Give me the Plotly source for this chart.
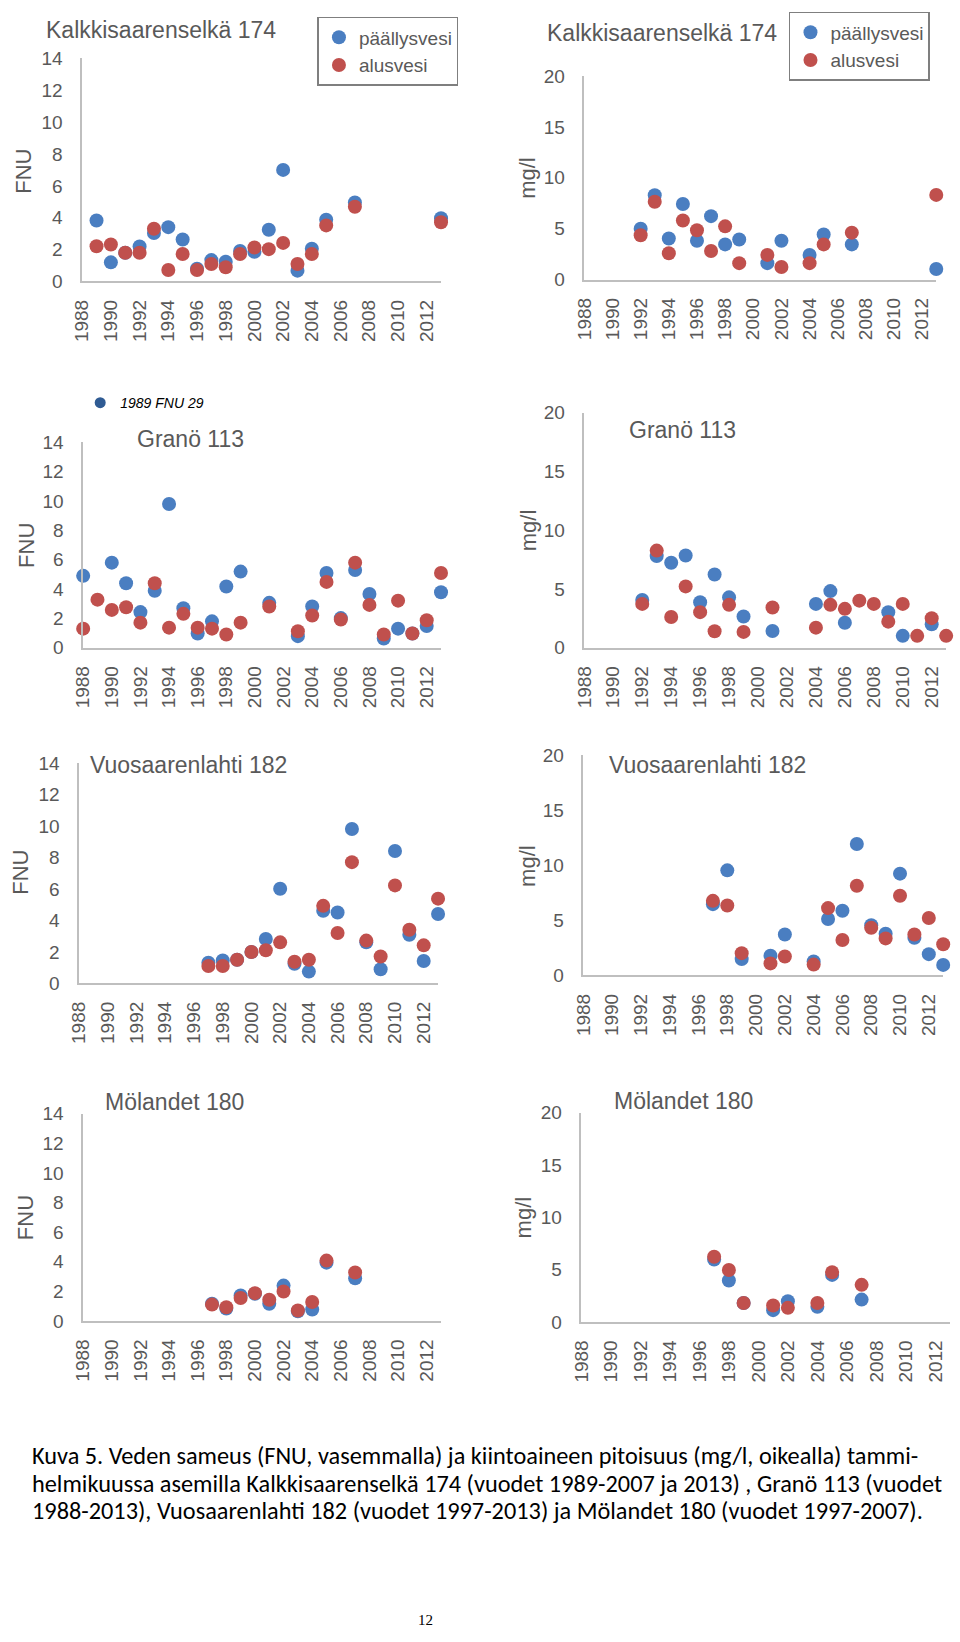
import plotly.graph_objects as go

W, H = 960, 1642
BLUE = "#4A7EC1"
RED = "#C0504D"
DARKBLUE = "#2F5B93"
GRAY = "#595959"
AXIS = "#BFBFBF"
FONT = "Liberation Sans, Arial, sans-serif"

# ---------------- data ----------------
# Kalkkisaarenselkä 174, FNU
k_fnu_years = [1989, 1990, 1991, 1992, 1993, 1994, 1995, 1996, 1997, 1998, 1999, 2000, 2001, 2002, 2003, 2004, 2005, 2007, 2013]
k_fnu_blue = [3.83, 1.2, 1.8, 2.2, 3.04, 3.41, 2.63, 0.8, 1.34, 1.24, 1.92, 1.86, 3.25, 7.0, 0.68, 2.05, 3.87, 4.96, 3.97]
k_fnu_red = [2.21, 2.32, 1.8, 1.8, 3.31, 0.72, 1.72, 0.72, 1.1, 0.89, 1.72, 2.13, 2.03, 2.42, 1.1, 1.72, 3.52, 4.69, 3.72]

# Kalkkisaarenselkä 174, mg/l
k_mg_years = [1992, 1993, 1994, 1995, 1996, 1997, 1998, 1999, 2001, 2002, 2004, 2005, 2007, 2013]
k_mg_blue = [5.0, 8.29, 4.03, 7.42, 3.81, 6.23, 3.45, 3.94, 1.61, 3.81, 2.42, 4.42, 3.45, 1.03]
k_mg_red = [4.35, 7.65, 2.58, 5.81, 4.84, 2.81, 5.23, 1.61, 2.42, 1.23, 1.61, 3.45, 4.61, 8.32]

# Granö 113, FNU
g_fnu_years_blue = [1988, 1990, 1991, 1992, 1993, 1994, 1995, 1996, 1997, 1998, 1999, 2001, 2003, 2004, 2005, 2006, 2007, 2008, 2009, 2010, 2011, 2012, 2013]
g_fnu_blue = [4.9, 5.8, 4.4, 2.43, 3.89, 9.8, 2.7, 0.97, 1.8, 4.18, 5.19, 3.06, 0.79, 2.81, 5.1, 2.02, 5.3, 3.66, 0.63, 1.3, 0.97, 1.48, 3.78]
g_fnu_outlier_year = [1989]
g_fnu_outlier_value = [29]
g_fnu_years_red = [1988, 1989, 1990, 1991, 1992, 1993, 1994, 1995, 1996, 1997, 1998, 1999, 2001, 2003, 2004, 2005, 2006, 2007, 2008, 2009, 2010, 2011, 2012, 2013]
g_fnu_red = [1.3, 3.28, 2.58, 2.76, 1.71, 4.4, 1.37, 2.31, 1.37, 1.3, 0.9, 1.71, 2.81, 1.12, 2.2, 4.49, 1.93, 5.8, 2.92, 0.9, 3.21, 0.97, 1.87, 5.1]

# Granö 113, mg/l
g_mg_years_blue = [1992, 1993, 1994, 1995, 1996, 1997, 1998, 1999, 2001, 2004, 2005, 2006, 2009, 2010, 2012]
g_mg_blue = [4.07, 7.8, 7.24, 7.85, 3.87, 6.23, 4.29, 2.66, 1.43, 3.73, 4.82, 2.13, 3.03, 1.01, 1.99]
g_mg_years_red = [1992, 1993, 1994, 1995, 1996, 1997, 1998, 1999, 2001, 2004, 2005, 2006, 2007, 2008, 2009, 2010, 2011, 2012, 2013]
g_mg_red = [3.73, 8.27, 2.61, 5.22, 3.03, 1.4, 3.65, 1.35, 3.42, 1.71, 3.65, 3.31, 4.01, 3.73, 2.22, 3.73, 1.01, 2.52, 1.01]

# Vuosaarenlahti 182, FNU
v_fnu_years = [1997, 1998, 1999, 2000, 2001, 2002, 2003, 2004, 2005, 2006, 2007, 2008, 2009, 2010, 2011, 2012, 2013]
v_fnu_blue = [1.32, 1.46, 1.5, 2.0, 2.82, 6.02, 1.25, 0.75, 4.62, 4.51, 9.82, 2.61, 0.9, 8.42, 3.09, 1.42, 4.41]
v_fnu_red = [1.11, 1.11, 1.5, 2.0, 2.11, 2.61, 1.38, 1.5, 4.93, 3.2, 7.71, 2.72, 1.71, 6.23, 3.41, 2.42, 5.39]

# Vuosaarenlahti 182, mg/l
v_mg_years = [1997, 1998, 1999, 2001, 2002, 2004, 2005, 2006, 2007, 2008, 2009, 2010, 2011, 2012, 2013]
v_mg_blue = [6.48, 9.55, 1.49, 1.79, 3.73, 1.28, 5.13, 5.88, 11.94, 4.57, 3.79, 9.25, 3.43, 1.94, 0.96]
v_mg_red = [6.78, 6.36, 2.03, 1.1, 1.73, 0.99, 6.12, 3.22, 8.15, 4.33, 3.37, 7.25, 3.73, 5.22, 2.84]

# Mölandet 180, FNU
m_fnu_years = [1997, 1998, 1999, 2000, 2001, 2002, 2003, 2004, 2005, 2007]
m_fnu_blue = [1.17, 0.84, 1.73, 1.84, 1.17, 2.39, 0.66, 0.78, 3.94, 2.88]
m_fnu_red = [1.11, 0.93, 1.55, 1.88, 1.44, 1.99, 0.71, 1.28, 4.08, 3.28]

# Mölandet 180, mg/l
m_mg_years = [1997, 1998, 1999, 2001, 2002, 2004, 2005, 2007]
m_mg_blue = [5.97, 3.96, 1.82, 1.13, 1.98, 1.45, 4.5, 2.14]
m_mg_red = [6.23, 4.97, 1.82, 1.57, 1.35, 1.82, 4.75, 3.55]

x_tick_years = list(range(1988, 2013, 2))
fnu_ticks = [0, 2, 4, 6, 8, 10, 12, 14]
mg_ticks = [0, 5, 10, 15, 20]

series_names = ["päällysvesi", "alusvesi"]
panel_titles = ["Kalkkisaarenselkä 174", "Kalkkisaarenselkä 174", "Granö 113", "Granö 113",
                "Vuosaarenlahti 182", "Vuosaarenlahti 182", "Mölandet 180", "Mölandet 180"]
caption_lines = [
    "Kuva 5. Veden sameus (FNU, vasemmalla) ja kiintoaineen pitoisuus (mg/l, oikealla) tammi-",
    "helmikuussa asemilla Kalkkisaarenselkä 174 (vuodet 1989-2007 ja 2013) , Granö 113 (vuodet",
    "1988-2013), Vuosaarenlahti 182 (vuodet 1997-2013) ja Mölandet 180 (vuodet 1997-2007).",
]
page_number = "12"

# ---------------- layout geometry (window pixels) ----------------
# (x_left, x_right, y_bottom(0), y_top(max))
panels = [
    (72, 435, 275, 49),
    (580, 936, 273, 67),
    (73, 435, 646, 438),
    (580, 946, 646, 408),
    (69, 432, 986, 763),
    (579, 943, 978, 755),
    (73, 435, 1328, 1118),
    (577, 950, 1329, 1117),
]
title_pos = [(33, 20), (540, 23), (125, 435), (623, 425), (78, 765), (603, 765), (93, 1106), (608, 1105)]
ytitle_pos = [(13, 163), (523, 170), (15, 542), (523, 527), (10, 873), (523, 867), (15, 1223), (518, 1223)]


def px(x):
    return x / W


def py(y):
    return 1 - y / H


fig = go.Figure()

panel_data = [
    (k_fnu_years, k_fnu_blue, k_fnu_years, k_fnu_red),
    (k_mg_years, k_mg_blue, k_mg_years, k_mg_red),
    (g_fnu_years_blue, g_fnu_blue, g_fnu_years_red, g_fnu_red),
    (g_mg_years_blue, g_mg_blue, g_mg_years_red, g_mg_red),
    (v_fnu_years, v_fnu_blue, v_fnu_years, v_fnu_red),
    (v_mg_years, v_mg_blue, v_mg_years, v_mg_red),
    (m_fnu_years, m_fnu_blue, m_fnu_years, m_fnu_red),
    (m_mg_years, m_mg_blue, m_mg_years, m_mg_red),
]

annotations = []
for i, (xb, yb, xr, yr) in enumerate(panel_data):
    n = i + 1
    xa = "x" if n == 1 else f"x{n}"
    ya = "y" if n == 1 else f"y{n}"
    legend_name = "legend" if i == 0 else ("legend2" if i == 1 else None)
    for xs, ys, color, name in [(xb, yb, BLUE, series_names[0]), (xr, yr, RED, series_names[1])]:
        kw = dict(x=xs, y=ys, mode="markers", name=name, xaxis=xa, yaxis=ya,
                  marker=dict(color=color, size=14, line=dict(width=0)),
                  cliponaxis=False, showlegend=legend_name is not None)
        if legend_name:
            kw["legend"] = legend_name
        fig.add_trace(go.Scatter(**kw))
    if i == 2:
        # off-scale value noted above the chart
        fig.add_trace(go.Scatter(x=g_fnu_outlier_year, y=g_fnu_outlier_value, mode="markers",
                                 name="<i>1989 FNU 29</i>", xaxis=xa, yaxis=ya,
                                 marker=dict(color=DARKBLUE, size=11), cliponaxis=True,
                                 showlegend=True, legend="legend3"))

    xl, xr_, yb0, yt = panels[i]
    is_fnu = (i % 2 == 0)
    xaxis_kw = dict(domain=[px(xl), px(xr_)], anchor=ya, range=[1988, 2013],
                    tickvals=x_tick_years, ticktext=[str(v) for v in x_tick_years],
                    tickangle=-90, tickfont=dict(family=FONT, size=19, color=GRAY),
                    showline=True, linecolor=AXIS, linewidth=1.5, showgrid=False, zeroline=False,
                    ticks="outside", ticklen=9, tickcolor="rgba(0,0,0,0)", fixedrange=True)
    yaxis_kw = dict(domain=[py(yb0), py(yt)], anchor=xa,
                    range=[0, 14] if is_fnu else [0, 20],
                    tickvals=fnu_ticks if is_fnu else mg_ticks,
                    tickfont=dict(family=FONT, size=19, color=GRAY),
                    showline=True, linecolor=AXIS, linewidth=1.5, showgrid=False, zeroline=False,
                    ticks="outside", ticklen=14, tickcolor="rgba(0,0,0,0)", fixedrange=True)
    fig.update_layout(**{("xaxis" if n == 1 else f"xaxis{n}"): xaxis_kw,
                         ("yaxis" if n == 1 else f"yaxis{n}"): yaxis_kw})

    tx, ty = title_pos[i]
    annotations.append(dict(text=panel_titles[i], x=px(tx), y=py(ty), xref="paper", yref="paper",
                            xanchor="left", yanchor="middle", showarrow=False,
                            font=dict(family=FONT, size=23, color=GRAY)))
    ax_, ay_ = ytitle_pos[i]
    annotations.append(dict(text="FNU" if is_fnu else "mg/l", x=px(ax_), y=py(ay_), xref="paper", yref="paper",
                            xanchor="center", yanchor="middle", showarrow=False, textangle=-90,
                            font=dict(family=FONT, size=22, color=GRAY)))

cap_y = [1465, 1493, 1520]
for line, yy in zip(caption_lines, cap_y):
    annotations.append(dict(text=line, x=px(19), y=py(yy), xref="paper", yref="paper",
                            xanchor="left", yanchor="middle", showarrow=False,
                            font=dict(family="Carlito, Liberation Sans Narrow, DejaVu Sans Condensed, sans-serif",
                                      size=24.3, color="#000000")))
annotations.append(dict(text=page_number, x=px(419), y=py(1631), xref="paper", yref="paper",
                        xanchor="center", yanchor="middle", showarrow=False,
                        font=dict(family="Liberation Serif, Times New Roman, serif", size=15, color="#000000")))

legend_common = dict(font=dict(family=FONT, size=19, color=GRAY), bgcolor="rgba(255,255,255,0)",
                     bordercolor="#7F7F7F", borderwidth=1.5, xanchor="left", yanchor="top",
                     itemwidth=30, tracegroupgap=0)
fig.update_layout(
    width=W, height=H, margin=dict(l=0, r=0, t=0, b=0),
    paper_bgcolor="white", plot_bgcolor="white",
    annotations=annotations,
    legend=dict(x=px(310), y=py(7), **legend_common),
    legend2=dict(x=px(787), y=py(2), **legend_common),
    legend3=dict(x=px(70), y=py(382), xanchor="left", yanchor="top", borderwidth=0,
                 bgcolor="rgba(255,255,255,0)",
                 font=dict(family=FONT, size=14, color="#000000"), itemwidth=30),
)

# remove the browser's default page margin so the figure fills the window exactly
fig.write_html("out.html", post_script="document.body.style.margin='0px';",
               config={"displayModeBar": False})
